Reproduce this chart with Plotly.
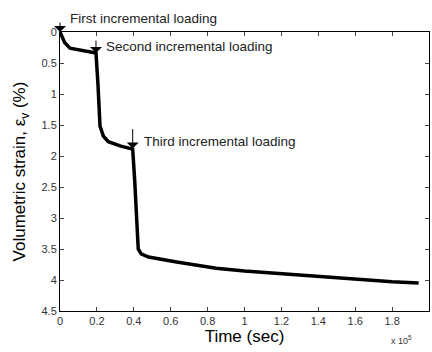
import plotly.graph_objects as go

time_1e5 = [0.0, 0.01, 0.025, 0.054, 0.12, 0.195, 0.205, 0.217, 0.235, 0.262, 0.33, 0.394, 0.405, 0.415, 0.424, 0.44, 0.48, 0.632, 0.846, 1.0, 1.2, 1.4, 1.6, 1.8, 1.944]
strain = [0.0, 0.08, 0.17, 0.26, 0.3, 0.34, 0.8, 1.52, 1.68, 1.77, 1.84, 1.89, 2.4, 3.1, 3.5, 3.58, 3.63, 3.71, 3.81, 3.855, 3.9, 3.94, 3.99, 4.03, 4.05]

fig = go.Figure()
fig.add_trace(go.Scatter(x=time_1e5, y=strain, mode="lines",
                         line=dict(color="black", width=3.5), showlegend=False))

font = "Liberation Sans, Arial, sans-serif"
fig.update_layout(
    width=432, height=352,
    margin=dict(l=60, r=3, t=32, b=41),
    plot_bgcolor="white", paper_bgcolor="white",
    font=dict(family=font, color="#222"),
)
fig.update_xaxes(range=[0, 2], dtick=0.2, tick0=0, ticks="inside", ticklen=4,
                 showline=True, linecolor="black", linewidth=1, mirror="ticks",
                 showgrid=False, zeroline=False, tickfont=dict(size=11, color="#333"),
                 title=dict(text="Time (sec)", font=dict(size=17, color="black"), standoff=0))
fig.update_yaxes(range=[4.5, 0], dtick=0.5, tick0=0, ticks="inside", ticklen=4,
                 showline=True, linecolor="black", linewidth=1, mirror="ticks",
                 showgrid=False, zeroline=False, tickfont=dict(size=11, color="#333"),
                 title=dict(text="Volumetric strain, ε<sub>v</sub> (%)", font=dict(size=17, color="black"), standoff=11))

arrows = [(0.0, 0.0, -18), (0.195, 0.34, -21), (0.394, 1.88, -28)]
for ax_, ay_, off in arrows:
    fig.add_annotation(x=ax_, y=ay_, ax=0, ay=off, showarrow=True, arrowhead=1,
                       arrowsize=2, arrowwidth=1, arrowcolor="black", text=" ")
labels = [(0.045, "paper", 1.05, "First incremental loading"),
          (0.24, "y", 0.24, "Second incremental loading"),
          (0.445, "y", 1.77, "Third incremental loading")]
for lx, yr, ly, t in labels:
    fig.add_annotation(x=lx, yref=yr, y=ly, text=t, showarrow=False, xanchor="left", yanchor="middle",
                       font=dict(size=13.5, color="#222"))
fig.add_annotation(xref="paper", yref="paper", x=0.96, y=-0.075, text="x 10<sup>5</sup>",
                   showarrow=False, xanchor="right", yanchor="top", font=dict(size=9, color="#333"))

fig.write_html("out.html")
